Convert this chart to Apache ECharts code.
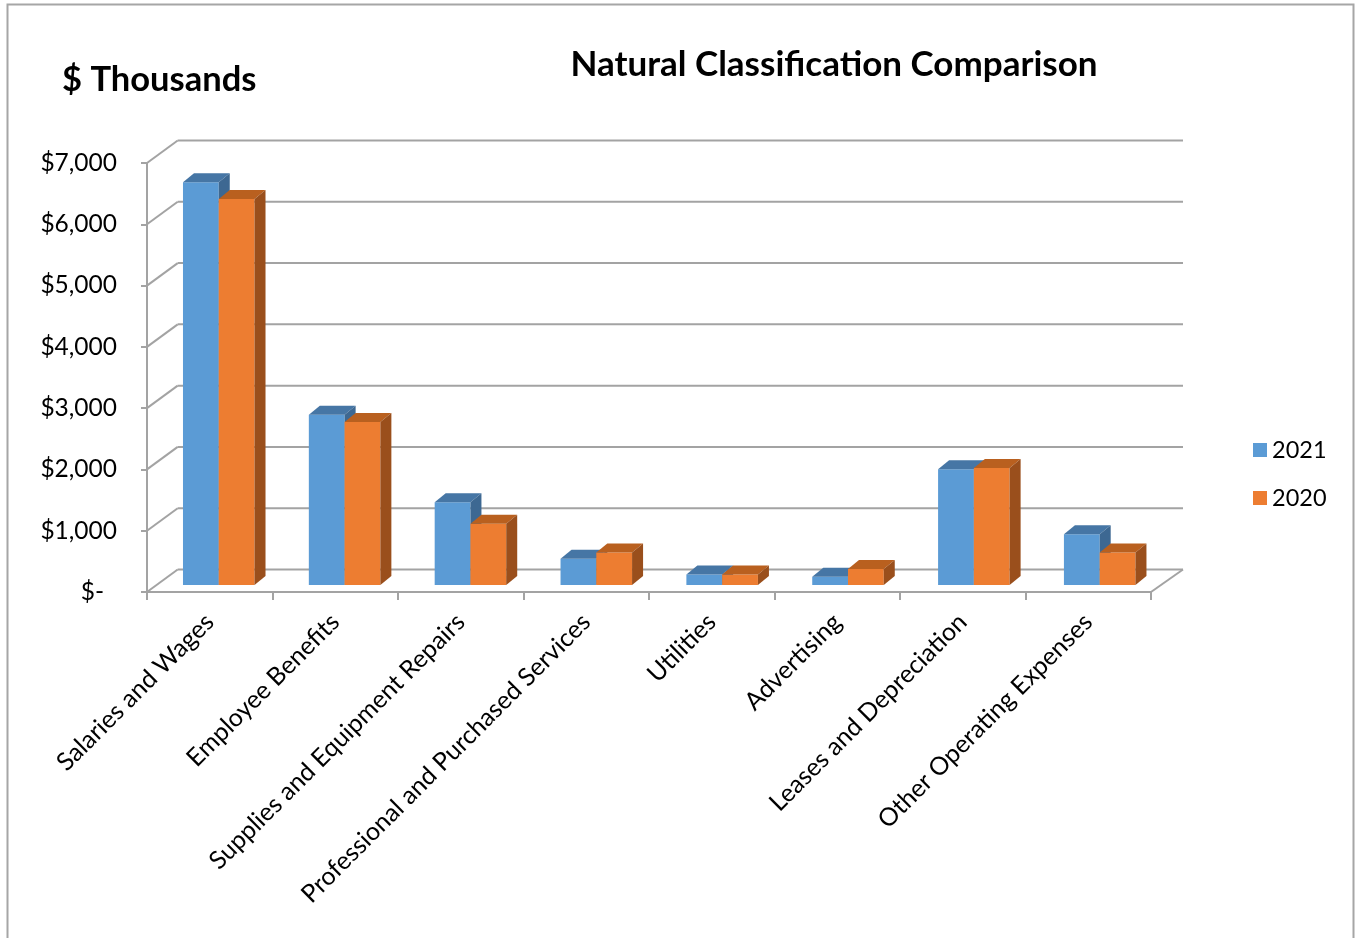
<!DOCTYPE html>
<html><head><meta charset="utf-8">
<script src="https://cdn.jsdelivr.net/npm/echarts@6.0.0/dist/echarts.min.js"></script>
<style>html,body{margin:0;padding:0;background:#fff}#c{width:1357px;height:938px}</style>
</head><body><div id="c"></div>
<script>
const categories = ['Salaries and Wages','Employee Benefits','Supplies and Equipment Repairs','Professional and Purchased Services','Utilities','Advertising','Leases and Depreciation','Other Operating Expenses'];
const values2021 = [6570, 2780, 1350, 430, 170, 135, 1890, 830];
const values2020 = [6300, 2660, 1000, 530, 170, 260, 1910, 530];
const yTicks = [0, 1000, 2000, 3000, 4000, 5000, 6000, 7000];
const seriesNames = ['2021', '2020'];
const chartTitle = 'Natural Classification Comparison';
const unitLabel = '$ Thousands';

const FONT = 'Lato, "Open Sans", sans-serif';
const GRAY = '#A3A3A3';
const COLORS = [
  {front:'#5B9BD5', top:'#4676A5', side:'#3D6892'},
  {front:'#ED7D31', top:'#B9601F', side:'#9A4F1C'}
];
const WALL_DX_L = 30.7, WALL_DX_R = 32, WALL_DY = 22.5;
const BAR_DY = 7, BAR_DEPTH_X = 11, BAR_DEPTH_Y = 9;

function fmt(v){
  if (v === 0) return '{z|$-}';
  return '$' + v.toLocaleString('en-US');
}

function wallRender(params, api){
  const v = api.value(1);
  const bw = api.size([1,0])[0];
  const n = categories.length;
  const pl = api.coord([0, v]); const pr = api.coord([n-1, v]);
  const xl = pl[0] - bw/2, xr = pr[0] + bw/2, y = pl[1];
  const st = {stroke: GRAY, lineWidth: 2};
  const ch = [
    {type:'line', shape:{x1:xl+WALL_DX_L, y1:y-WALL_DY, x2:xr+WALL_DX_R, y2:y-WALL_DY}, style:st},
    {type:'line', shape:{x1:xl, y1:y, x2:xl+WALL_DX_L, y2:y-WALL_DY}, style:st}
  ];
  if (v === 0) ch.push({type:'line', shape:{x1:xr, y1:y, x2:xr+WALL_DX_R, y2:y-WALL_DY}, style:st});
  return {type:'group', children: ch};
}

function barRender(sIdx){
  const col = COLORS[sIdx];
  return function(params, api){
    const ci = api.value(0), v = api.value(1);
    const bw = api.size([1,0])[0];
    const c = api.coord([ci, v]);
    const c0 = api.coord([ci, 0]);
    const shift = 9 + 0.35*ci;
    const w = bw*0.285;
    const x0 = c[0] + shift + (sIdx === 0 ? -w : 0);
    const yt = c[1] - BAR_DY, yb = c0[1] - BAR_DY;
    const dx = BAR_DEPTH_X, dy = BAR_DEPTH_Y;
    return {type:'group', children:[
      {type:'rect', shape:{x:x0, y:yt, width:w, height:yb-yt}, style:{fill:col.front}},
      {type:'polygon', shape:{points:[[x0,yt],[x0+w,yt],[x0+w+dx,yt-dy],[x0+dx,yt-dy]]}, style:{fill:col.top}},
      {type:'polygon', shape:{points:[[x0+w,yt],[x0+w+dx,yt-dy],[x0+w+dx,yb-dy],[x0+w,yb]]}, style:{fill:col.side}}
    ]};
  };
}

const chart = echarts.init(document.getElementById('c'), null, {renderer:'canvas'});
chart.setOption({
  animation: false,
  backgroundColor: '#fff',
  textStyle: {fontFamily: FONT},
  graphic: [
    {type:'rect', left:5, top:2, z:-10, shape:{width:1346, height:945}, style:{fill:'none', stroke:'#A6A6A6', lineWidth:2}},
    {type:'text', x:834, y:65, style:{text:chartTitle, fontFamily:FONT, fontWeight:'bold', fontSize:35, fill:'#000', align:'center', verticalAlign:'middle'}},
    {type:'text', x:62, y:80, style:{text:unitLabel, fontFamily:FONT, fontWeight:'bold', fontSize:34.5, fill:'#000', align:'left', verticalAlign:'middle'}}
  ],
  legend: {
    orient:'vertical', left:1248, top:433, itemWidth:14, itemHeight:14, itemGap:24,
    icon:'rect', data: seriesNames,
    textStyle:{fontSize:23.5, lineHeight:24, color:'#000', fontFamily:FONT}
  },
  grid: {left:147, right:206, top:163, bottom:346, containLabel:false},
  xAxis: {
    type:'category', data: categories,
    axisLine:{lineStyle:{color:GRAY, width:2}},
    axisTick:{show:true, length:8, lineStyle:{color:GRAY, width:2}},
    axisLabel:{rotate:45, interval:0, fontSize:25, color:'#000', margin:26, fontFamily:FONT},
    splitLine:{show:false}
  },
  yAxis: {
    type:'value', min:0, max:7000, interval:1000,
    axisLine:{show:true, lineStyle:{color:GRAY, width:2}},
    axisTick:{show:true, length:6, lineStyle:{color:GRAY, width:2}},
    axisLabel:{formatter: fmt, fontSize:24.5, color:'#000', margin:30, fontFamily:FONT,
      rich:{z:{fontSize:24.5, color:'#000', fontFamily:FONT, padding:[0,13,0,0]}}},
    splitLine:{show:false}
  },
  series: [
    {type:'custom', name:'wall', z:1, silent:true, renderItem: wallRender,
     data: yTicks.map(v => [0, v]), encode:{x:0, y:1}},
    {type:'custom', name:seriesNames[0], z:2, renderItem: barRender(0), itemStyle:{color:COLORS[0].front},
     data: values2021.map((v,i) => [i, v]), encode:{x:0, y:1}},
    {type:'custom', name:seriesNames[1], z:3, renderItem: barRender(1), itemStyle:{color:COLORS[1].front},
     data: values2020.map((v,i) => [i, v]), encode:{x:0, y:1}}
  ]
});
</script></body></html>
